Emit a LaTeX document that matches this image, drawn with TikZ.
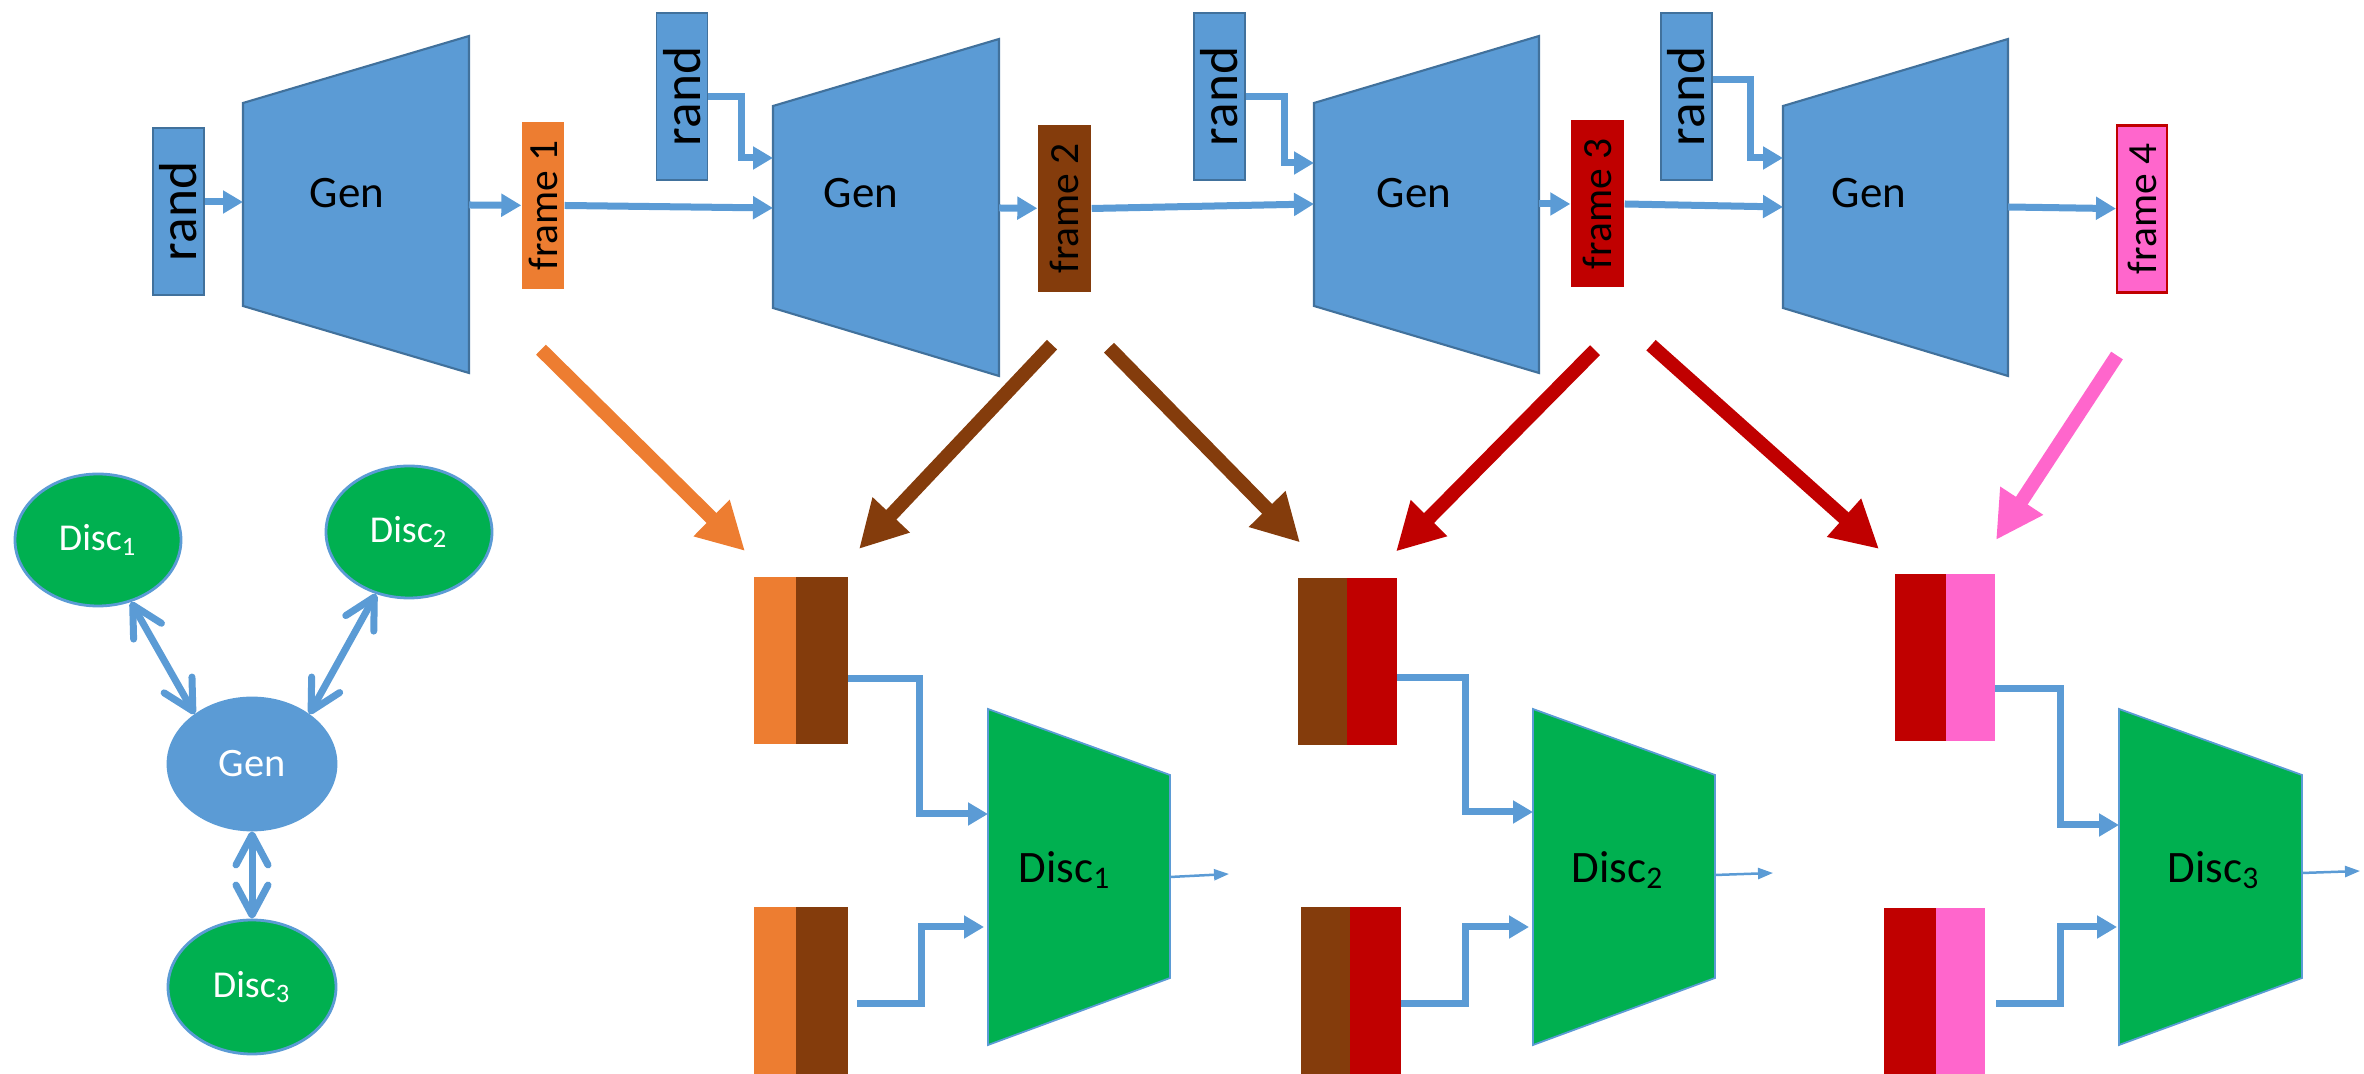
\documentclass[tikz,border=0pt]{standalone}
\usepackage{fontspec}
\usepackage{graphicx}
\usepackage{xcolor}
\usepackage{tikz}
\usetikzlibrary{positioning,shapes.geometric,arrows.meta}

\setmainfont{Carlito}

\definecolor{accBlue}{HTML}{5B9BD5}
\definecolor{edgeBlue}{HTML}{41719C}
\definecolor{discGreen}{HTML}{00B050}
\definecolor{fOrange}{HTML}{ED7D31}
\definecolor{fBrown}{HTML}{843C0C}
\definecolor{fRed}{HTML}{C00000}
\definecolor{fPink}{HTML}{FF66CC}

\tikzset{
  randbox/.style={draw=edgeBlue,fill=accBlue,line width=0.5pt,minimum width=0.51cm,minimum height=1.67cm,inner sep=0pt,font=\fontsize{15.2}{16}\selectfont},
  framebox/.style={minimum width=0.52cm,minimum height=1.67cm,inner sep=0pt,font=\fontsize{11.8}{12}\selectfont},
  halfbox/.style={minimum height=1.67cm,inner sep=0pt,outer sep=0pt},
  genbody/.style={draw=edgeBlue,fill=accBlue,line width=0.6pt},
  discbody/.style={draw=accBlue,fill=discGreen,line width=0.5pt},
  genlabel/.style={font=\fontsize{12.8}{14}\selectfont},
  bubble/.style={ellipse,draw=accBlue,line width=0.8pt,minimum width=1.66cm,minimum height=1.32cm,inner sep=0pt,text=white,font=\fontsize{10.8}{12}\selectfont},
  feed/.style={draw=accBlue,line width=0.07cm,-{Triangle[length=0.2cm,width=0.22cm]}},
  pass/.style={line width=0.14cm,-{Triangle[length=0.47cm,width=0.48cm]}},
  score/.style={draw=accBlue,line width=0.025cm,-{Triangle[length=0.15cm,width=0.11cm]}},
  link/.style={draw=accBlue,line width=0.07cm,{Straight Barb[length=0.3cm,width=0.32cm,round]}-{Straight Barb[length=0.3cm,width=0.32cm,round]}}
}

\begin{document}
\begin{tikzpicture}
  \useasboundingbox (0,0) rectangle (23.64,10.74);

  % generator chain
  \node[randbox] (rand1) at (1.785,8.625) {\rotatebox{90}{rand}};
  \draw[genbody] (2.43,9.71) -- (4.69,10.38) -- (4.69,7.01) -- (2.43,7.68) -- cycle;
  \node[genlabel] (gen1) at (3.47,8.81) {Gen};
  \coordinate (G1in) at (2.43,8.72);
  \coordinate (G1out) at (4.69,8.69);
  \node[framebox,fill=fOrange,minimum width=0.42cm] (frame1) at (5.43,8.685) {\rotatebox{90}{frame 1}};

  \node[randbox] (rand2) at (6.82,9.775) {\rotatebox{90}{rand}};
  \draw[genbody] (7.73,9.68) -- (9.99,10.35) -- (9.99,6.98) -- (7.73,7.66) -- cycle;
  \node[genlabel] (gen2) at (8.61,8.81) {Gen};
  \coordinate (G2in) at (7.73,8.66);
  \coordinate (G2r) at (7.73,9.16);
  \coordinate (G2out) at (9.99,8.66);
  \node[framebox,fill=fBrown,minimum width=0.53cm] (frame2) at (10.645,8.655) {\rotatebox{90}{frame 2}};

  \node[randbox] (rand3) at (12.195,9.775) {\rotatebox{90}{rand}};
  \draw[genbody] (13.14,9.71) -- (15.39,10.38) -- (15.39,7.01) -- (13.14,7.68) -- cycle;
  \node[genlabel] (gen3) at (14.14,8.81) {Gen};
  \coordinate (G3in) at (13.14,8.70);
  \coordinate (G3r) at (13.14,9.11);
  \coordinate (G3out) at (15.39,8.70);
  \node[framebox,fill=fRed,minimum width=0.53cm] (frame3) at (15.975,8.70) {\rotatebox{90}{frame 3}};

  \node[randbox] (rand4) at (16.865,9.775) {\rotatebox{90}{rand}};
  \draw[genbody] (17.83,9.68) -- (20.08,10.35) -- (20.08,6.98) -- (17.83,7.66) -- cycle;
  \node[genlabel] (gen4) at (18.69,8.81) {Gen};
  \coordinate (G4in) at (17.83,8.67);
  \coordinate (G4r) at (17.83,9.16);
  \coordinate (G4out) at (20.08,8.67);
  \node[framebox,fill=fPink,draw=fRed,line width=0.6pt,minimum width=0.50cm] (frame4) at (21.42,8.65) {\rotatebox{90}{frame 4}};

  \draw[feed] (rand1.east |- G1in) -- (G1in);
  \draw[feed] (G1out) -- (frame1);
  \draw[feed] (frame1.east) -- (G2in);
  \draw[feed] (rand2.east) -- ++(0.33,0) |- (G2r);
  \draw[feed] (G2out) -- (frame2);
  \draw[feed] (frame2.east) -- (G3in);
  \draw[feed] (rand3.east) -- ++(0.39,0) |- (G3r);
  \draw[feed] (G3out) -- (frame3);
  \draw[feed] (frame3.east) -- (G4in);
  \draw[feed] ([yshift=0.17cm]rand4.east) -- ++(0.38,0) |- (G4r);
  \draw[feed] (G4out) -- (frame4);

  % frame pairs
  \node[halfbox,fill=fOrange,minimum width=0.42cm] (p1aL) at (7.75,4.135) {};
  \node[halfbox,fill=fBrown,minimum width=0.52cm,right=0pt of p1aL] (p1aR) {};
  \node[halfbox,fill=fOrange,minimum width=0.42cm] (p1bL) at (7.75,0.835) {};
  \node[halfbox,fill=fBrown,minimum width=0.52cm,right=0pt of p1bL] (p1bR) {};

  \node[halfbox,fill=fBrown,minimum width=0.49cm] (p2aL) at (13.225,4.125) {};
  \node[halfbox,fill=fRed,minimum width=0.50cm,right=0pt of p2aL] (p2aR) {};
  \node[halfbox,fill=fBrown,minimum width=0.49cm] (p2bL) at (13.255,0.83) {};
  \node[halfbox,fill=fRed,minimum width=0.51cm,right=0pt of p2bL] (p2bR) {};

  \node[halfbox,fill=fRed,minimum width=0.51cm] (p3aL) at (19.205,4.16) {};
  \node[halfbox,fill=fPink,minimum width=0.49cm,right=0pt of p3aL] (p3aR) {};
  \node[halfbox,fill=fRed,minimum width=0.52cm] (p3bL) at (19.10,0.825) {};
  \node[halfbox,fill=fPink,minimum width=0.49cm,right=0pt of p3bL] (p3bR) {};

  \draw[pass,draw=fOrange] ([shift={(-0.02,-0.60)}]frame1.south) -- ([shift={(-0.09,0.26)}]p1aL.north west);
  \draw[pass,draw=fBrown] ([shift={(-0.125,-0.52)}]frame2.south) -- ([shift={(0.11,0.28)}]p1aR.north east);
  \draw[pass,draw=fBrown] ([shift={(0.445,-0.55)}]frame2.south) -- ([shift={(0.02,0.355)}]p2aL.north west);
  \draw[pass,draw=fRed] ([shift={(-0.025,-0.62)}]frame3.south) -- ([shift={(-0.01,0.265)}]p2aR.north east);
  \draw[pass,draw=fRed] ([shift={(0.535,-0.57)}]frame3.south) -- ([shift={(-0.16,0.255)}]p3aL.north west);
  \draw[pass,draw=fPink] ([shift={(-0.25,-0.62)}]frame4.south) -- ([shift={(0.01,0.345)}]p3aR.north east);

  % discriminators
  \draw[discbody] (9.88,3.65) -- (11.70,2.99) -- (11.70,0.96) -- (9.88,0.29) -- cycle;
  \node[genlabel] (disc1) at (10.65,2.04) {Disc\textsubscript{1}};
  \coordinate (D1a) at (9.88,2.60);
  \coordinate (D1b) at (9.84,1.47);
  \coordinate (D1out) at (11.70,1.97);
  \coordinate (D1res) at (12.29,2.00);

  \draw[discbody] (15.33,3.65) -- (17.15,2.99) -- (17.15,0.96) -- (15.33,0.29) -- cycle;
  \node[genlabel] (disc2) at (16.18,2.04) {Disc\textsubscript{2}};
  \coordinate (D2a) at (15.33,2.62);
  \coordinate (D2b) at (15.29,1.47);
  \coordinate (D2out) at (17.15,1.99);
  \coordinate (D2res) at (17.73,2.01);

  \draw[discbody] (21.19,3.65) -- (23.02,2.99) -- (23.02,0.96) -- (21.19,0.29) -- cycle;
  \node[genlabel] (disc3) at (22.14,2.04) {Disc\textsubscript{3}};
  \coordinate (D3a) at (21.19,2.49);
  \coordinate (D3b) at (21.17,1.47);
  \coordinate (D3out) at (23.02,2.01);
  \coordinate (D3res) at (23.60,2.03);

  \draw[feed] ([yshift=-0.185cm]p1aR.east) -- ++(0.71,0) |- (D1a);
  \draw[feed] ([xshift=0.09cm,yshift=-0.135cm]p1bR.east) -- ++(0.64,0) |- (D1b);
  \draw[feed] ([yshift=-0.165cm]p2aR.east) -- ++(0.68,0) |- (D2a);
  \draw[feed] ([yshift=-0.13cm]p2bR.east) -- ++(0.64,0) |- (D2b);
  \draw[feed] ([yshift=-0.31cm]p3aR.east) -- ++(0.65,0) |- (D3a);
  \draw[feed] ([xshift=0.11cm,yshift=-0.125cm]p3bR.east) -- ++(0.64,0) |- (D3b);

  \draw[score] (D1out) -- (D1res);
  \draw[score] (D2out) -- (D2res);
  \draw[score] (D3out) -- (D3res);

  % summary graph
  \node[bubble,fill=discGreen] (bd1) at (0.98,5.34) {Disc\textsubscript{1}};
  \node[bubble,fill=discGreen] (bd2) at (4.09,5.42) {Disc\textsubscript{2}};
  \node[bubble,fill=accBlue,minimum width=1.68cm,font=\fontsize{11.5}{12}\selectfont] (bgen) at (2.52,3.10) {Gen};
  \node[bubble,fill=discGreen,minimum width=1.68cm,minimum height=1.34cm] (bd3) at (2.52,0.87) {Disc\textsubscript{3}};
  \draw[link] (bd1.-62) -- (bgen.139);
  \draw[link] (bd2.-118) -- (bgen.41);
  \draw[link] (bgen.south) -- (bd3.north);

\end{tikzpicture}
\end{document}
